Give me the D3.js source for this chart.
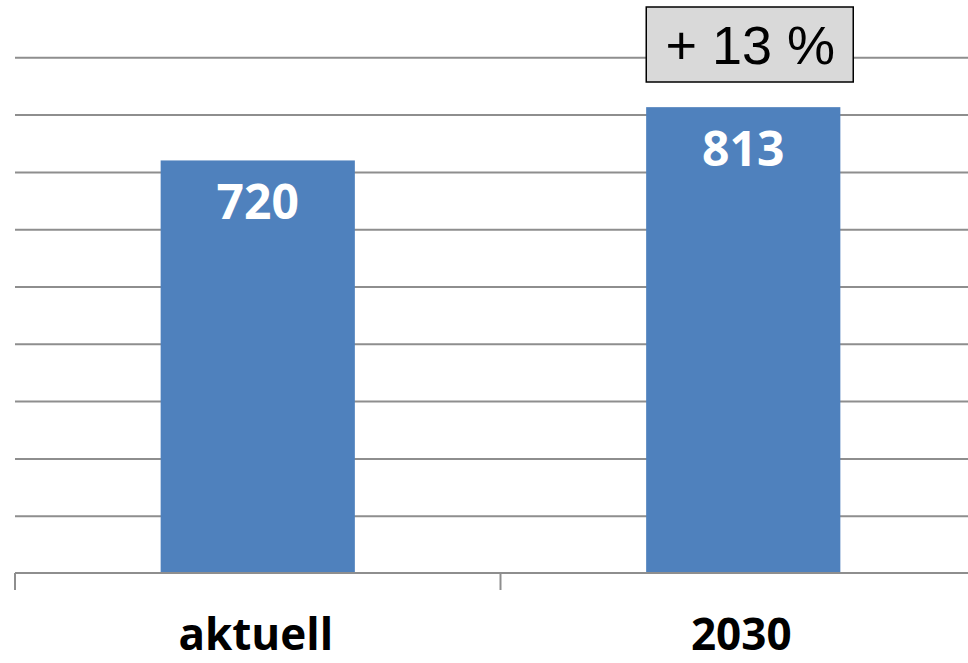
<!DOCTYPE html>
<html>
<head>
<meta charset="utf-8">
<script src="https://cdn.jsdelivr.net/npm/d3@7"></script>
<style>
  body { margin: 0; background: #fff; }
  .grid line { stroke: #8e8e8e; stroke-width: 2; }
  .grid .domain { display: none; }
  .x.axis .domain, .x.axis line { stroke: #8e8e8e; stroke-width: 2; }
  .x.axis text { font-family: "Open Sans", sans-serif; font-weight: 700; font-size: 44px; fill: #000; }
  .bar { fill: #4f81bd; }
  .value { font-family: "Open Sans", sans-serif; font-weight: 700; font-size: 48px; fill: #fff; }
  .change rect { fill: #d9d9d9; stroke: #000; stroke-width: 1.5; }
  .change text { font-family: "Liberation Sans", Arial, sans-serif; font-size: 54px; fill: #000; }
</style>
</head>
<body>
<svg id="chart"></svg>
<script>
const categories = ['aktuell', '2030'];
const values = [720, 813];
const gridTicks = [100, 200, 300, 400, 500, 600, 700, 800, 900];
const changeLabel = '+ 13 %';

const width = 968;
const height = 663;
const margin = { top: 0, right: -18, bottom: 90, left: 15 };
const innerW = width - margin.left - margin.right;
const innerH = height - margin.top - margin.bottom;

const svg = d3.select('#chart')
  .attr('width', width)
  .attr('height', height);

const viz = svg.append('g')
  .attr('transform', `translate(${margin.left},${margin.top})`);

const xScale = d3.scaleBand()
  .domain(categories)
  .range([0, innerW])
  .padding(0);

const yScale = d3.scaleLinear()
  .domain([0, 1000])
  .range([innerH, 0]);

// horizontal gridlines
viz.append('g')
  .attr('class', 'grid')
  .call(d3.axisLeft(yScale)
    .tickValues(gridTicks)
    .tickSize(-innerW)
    .tickFormat(''));

// bars
const barW = xScale.bandwidth() * 0.4;
viz.selectAll('rect.bar')
  .data(values)
  .enter()
  .append('rect')
  .attr('class', 'bar')
  .attr('x', (d, i) => xScale(categories[i]) + (xScale.bandwidth() - barW) / 2)
  .attr('y', (d) => yScale(d))
  .attr('width', barW)
  .attr('height', (d) => yScale(0) - yScale(d));

// value labels inside the bars
viz.selectAll('text.value')
  .data(values)
  .enter()
  .append('text')
  .attr('class', 'value')
  .attr('text-anchor', 'middle')
  .attr('x', (d, i) => xScale(categories[i]) + xScale.bandwidth() / 2)
  .attr('y', (d) => yScale(d) + 59)
  .text((d) => d);

// x axis with boundary ticks
const xAxis = viz.append('g')
  .attr('class', 'x axis')
  .attr('transform', `translate(0,${innerH})`);

xAxis.append('path')
  .attr('class', 'domain')
  .attr('d', `M0,0H${innerW}`);

xAxis.selectAll('line.tick')
  .data(categories)
  .enter()
  .append('line')
  .attr('x1', (d) => xScale(d))
  .attr('x2', (d) => xScale(d))
  .attr('y1', 0)
  .attr('y2', 17);

xAxis.selectAll('text')
  .data(categories)
  .enter()
  .append('text')
  .attr('text-anchor', 'middle')
  .attr('x', (d) => xScale(d) + xScale.bandwidth() / 2 - 2)
  .attr('y', 77)
  .text((d) => d);

// change box above the 2030 bar
const cx = xScale(categories[1]) + xScale.bandwidth() / 2;
const change = viz.append('g').attr('class', 'change');
change.append('rect')
  .attr('x', cx - 97)
  .attr('y', 7)
  .attr('width', 207)
  .attr('height', 75);
change.append('text')
  .attr('text-anchor', 'middle')
  .attr('x', cx + 7)
  .attr('y', 64)
  .text(changeLabel);
</script>
</body>
</html>
